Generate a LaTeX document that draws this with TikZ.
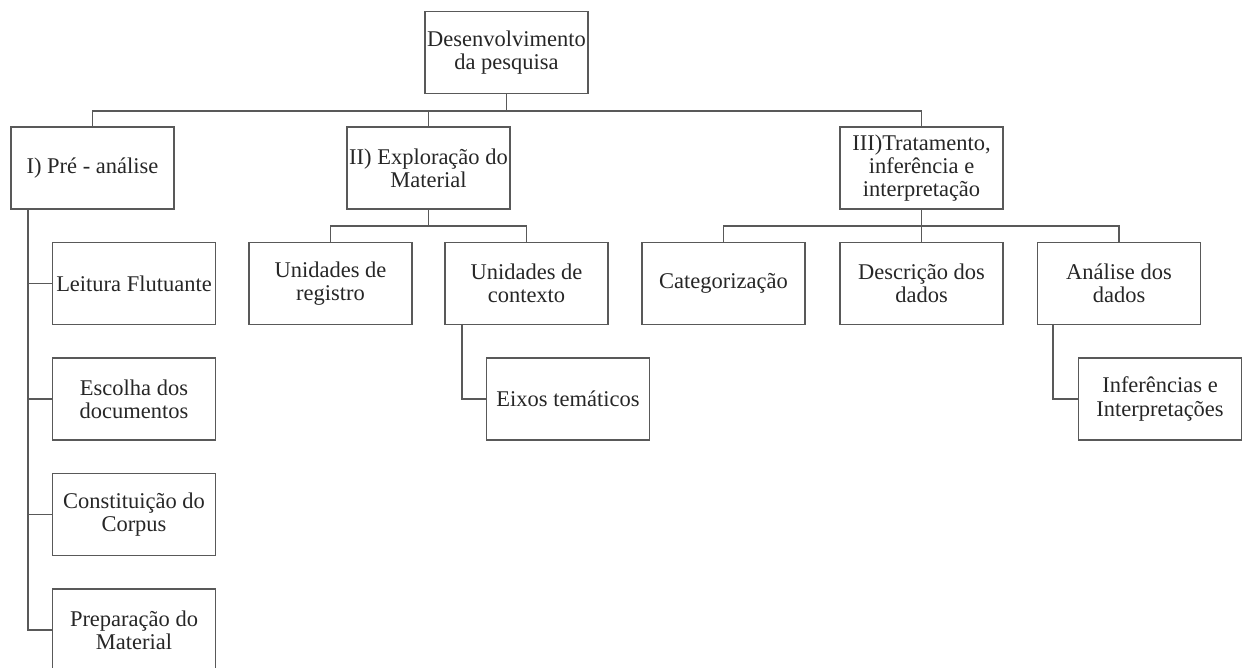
\documentclass[tikz,border=0pt]{standalone}
\usepackage{fontspec}
\setmainfont{Liberation Serif}
\tikzset{
  box/.style={draw=black!65, line width=0.8pt, minimum width=3.26cm, minimum height=1.64cm,
    inner sep=1pt, align=center, text=black!85, font=\fontsize{12.8}{13.2}\selectfont},
  conn/.style={draw=black!65, line width=0.8pt}
}
\begin{document}
\begin{tikzpicture}[x=0.02cm, y=-0.02cm]
  \useasboundingbox (0,0) rectangle (1243,668);
  \node[box] (root) at (506.5,52.5) {Desenvolvimento\\da pesquisa};
  \node[box] (pre) at (92.5,168) {I) Pré - análise};
  \node[box] (expl) at (428.5,168) {II) Exploração do\\Material};
  \node[box] (trat) at (921.5,168) {III)Tratamento,\\inferência e\\interpretação};
  \node[box] (leit) at (134,283.5) {Leitura Flutuante};
  \node[box] (esc) at (134,399) {Escolha dos\\documentos};
  \node[box] (cons) at (134,514.5) {Constituição do\\Corpus};
  \node[box] (prep) at (134,630) {Preparação do\\Material};
  \node[box] (ureg) at (330.5,283.5) {Unidades de\\registro};
  \node[box] (ucon) at (526.5,283.5) {Unidades de\\contexto};
  \node[box] (eixo) at (568,399) {Eixos temáticos};
  \node[box] (cat) at (723.5,283.5) {Categorização};
  \node[box] (desc) at (921.5,283.5) {Descrição dos\\dados};
  \node[box] (anal) at (1119,283.5) {Análise dos\\dados};
  \node[box] (inf) at (1160,399) {Inferências e\\Interpretações};
  \coordinate (bus) at (506.5,111);
  \coordinate (ebus) at (428.5,226);
  \coordinate (tbus) at (921.5,226);
  \coordinate (pstem) at (28,209);
  \coordinate (cstem) at (462,324);
  \coordinate (astem) at (1053,324);
  \draw[conn] (root) -- (bus);
  \draw[conn] (pre.north) |- (bus) -| (trat.north);
  \draw[conn] (expl.north) -- (expl.north |- bus);
  \draw[conn] (expl) -- (ebus);
  \draw[conn] (ureg.north) |- (ebus) -| (ucon.north);
  \draw[conn] (trat) -- (desc);
  \draw[conn] (cat.north) |- (tbus) -| (anal.north);
  \draw[conn] (pstem) |- (prep.west);
  \foreach \n in {leit,esc,cons}
    \draw[conn] (\n.west) -- (\n.west -| pstem);
  \draw[conn] (cstem) |- (eixo.west);
  \draw[conn] (astem) |- (inf.west);
\end{tikzpicture}
\end{document}
